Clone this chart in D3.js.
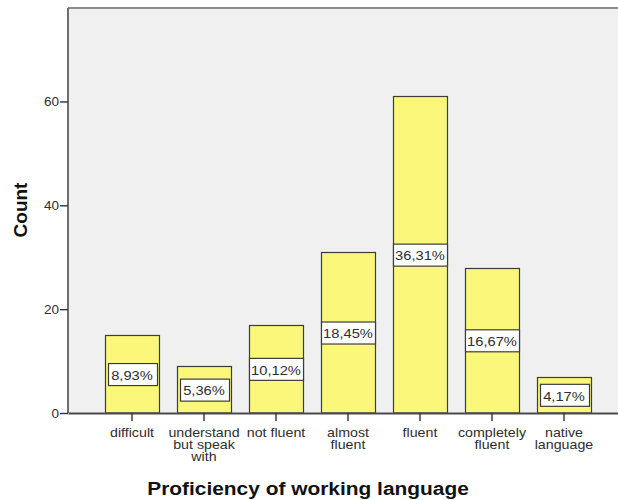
<!DOCTYPE html>
<html><head><meta charset="utf-8">
<script src="https://cdn.jsdelivr.net/npm/d3@7"></script>
<style>html,body{margin:0;padding:0;background:#fff;overflow:hidden}</style>
</head><body><svg id="c" width="618" height="500"></svg>
<script>
const categories = ["difficult","understand but speak with","not fluent","almost fluent","fluent","completely fluent","native language"];
const categoryLines = [["difficult"],["understand","but speak","with"],["not fluent"],["almost","fluent"],["fluent"],["completely","fluent"],["native","language"]];
const counts = [15,9,17,31,61,28,7];
const percentLabels = ["8,93%","5,36%","10,12%","18,45%","36,31%","16,67%","4,17%"];
const yTicks = [0,20,40,60];
const xTitle = "Proficiency of working language";
const yTitle = "Count";

const svg = d3.select("#c");
const L = 68, R = 628, T = 8, B = 413;
const FONT = "'Liberation Sans', Arial, sans-serif";
const SX = 1.13;

const x = d3.scaleBand().domain(categories).range([L, R]).paddingInner(0.25).paddingOuter(0.514);
const y = d3.scaleLinear().domain([0, 78]).range([B, T]);

// plot background
svg.append("rect").attr("x", L).attr("y", T).attr("width", R - L).attr("height", B - T).attr("fill", "#f0f0f0");
// frame
svg.append("line").attr("x1", L).attr("x2", R).attr("y1", T).attr("y2", T).attr("stroke", "#8a8a8a").attr("stroke-width", 2);
svg.append("line").attr("x1", L).attr("x2", L).attr("y1", T).attr("y2", B).attr("stroke", "#6e6e6e").attr("stroke-width", 2);

// bars
const data = categories.map((c, i) => ({c, v: counts[i], p: percentLabels[i], lines: categoryLines[i]}));
svg.selectAll("rect.bar").data(data).enter().append("rect").attr("class", "bar")
  .attr("x", d => Math.round(x(d.c)) + 0.5)
  .attr("y", d => Math.round(y(d.v)) + 0.5)
  .attr("width", x.bandwidth())
  .attr("height", d => y(0) - Math.round(y(d.v)) - 0.5)
  .attr("fill", "#fbf77a").attr("stroke", "#3c3c3c").attr("stroke-width", 1.2);

// bottom axis
const xa = svg.append("g").attr("transform", `translate(0,${B})`).call(d3.axisBottom(x).tickSize(8).tickSizeOuter(0).tickFormat(""));
xa.select(".domain").attr("stroke", "#4a4a4a").attr("stroke-width", 1.8);
xa.selectAll(".tick line").attr("stroke", "#333").attr("stroke-width", 1.4);

// x tick labels
data.forEach(d => {
  const cx = x(d.c) + x.bandwidth() / 2;
  const t = svg.append("text").attr("transform", `translate(${cx},436.5) scale(${SX},1)`)
    .attr("text-anchor", "middle").attr("font-family", FONT).attr("font-size", 12.6).attr("fill", "#2e2e2e");
  d.lines.forEach((ln, k) => t.append("tspan").attr("x", 0).attr("y", k * 12.5).text(ln));
});

// left axis
const ya = svg.append("g").attr("transform", `translate(${L},0)`).call(d3.axisLeft(y).tickValues(yTicks).tickSize(8).tickSizeOuter(0).tickPadding(1));
ya.select(".domain").remove();
ya.selectAll(".tick line").attr("stroke", "#333").attr("stroke-width", 1.4);
ya.selectAll(".tick text").attr("font-family", FONT).attr("font-size", 13.5).attr("fill", "#2e2e2e");

// percent labels
data.forEach(d => {
  const cx = x(d.c) + x.bandwidth() / 2;
  const cy = (y(0) + y(d.v)) / 2 + 1;
  const g = svg.append("g").attr("transform", `translate(${cx},${cy})`);
  const box = g.append("rect");
  const t = g.append("text").attr("transform", `scale(${SX},1)`).attr("text-anchor", "middle")
    .attr("font-family", FONT).attr("font-size", 13).attr("fill", "#2e2e2e").attr("y", 4.7).text(d.p);
  const w = Math.min(t.node().getComputedTextLength() * SX + 7, x.bandwidth());
  box.attr("x", Math.round(-w / 2) + 0.5).attr("y", -11.5).attr("width", Math.round(w)).attr("height", 22)
    .attr("fill", "#fff").attr("stroke", "#3c3c3c").attr("stroke-width", 1.2);
});

// titles
svg.append("text").attr("transform", `translate(308,495) scale(1.1,1)`).attr("text-anchor", "middle")
  .attr("font-family", FONT).attr("font-weight", "bold").attr("font-size", 19).attr("fill", "#111").text(xTitle);
svg.append("text").attr("transform", `translate(27,210) rotate(-90)`).attr("text-anchor", "middle")
  .attr("font-family", FONT).attr("font-weight", "bold").attr("font-size", 19).attr("fill", "#111").text(yTitle);
</script></body></html>
